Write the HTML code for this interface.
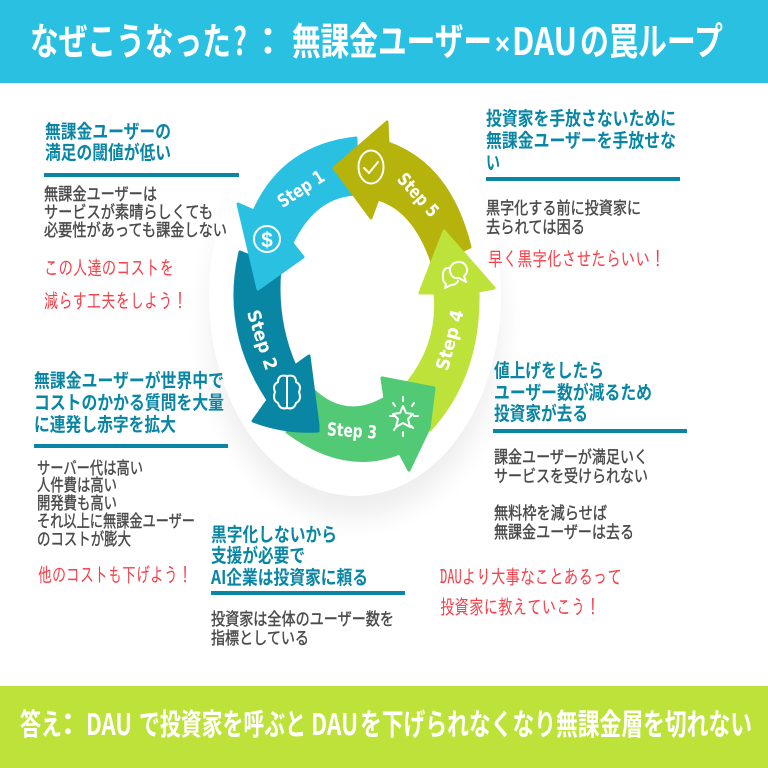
<!DOCTYPE html>
<html lang="ja"><head><meta charset="utf-8"><style>
html,body{margin:0;padding:0;background:#fff}
svg{display:block}
text{font-family:"Noto Sans CJK JP","Liberation Sans",sans-serif}
.h{font-size:19px;font-weight:700;fill:#0a86a5}
.b{font-size:17px;fill:#4a4a4a;stroke:#4a4a4a;stroke-width:.4}
.r{font-size:20px;fill:#f5404a;font-family:"IPAGothic","WenQuanYi Zen Hei",sans-serif}
.s{font-size:18px;font-weight:700;fill:#fff;text-anchor:middle;font-family:"DejaVu Sans",sans-serif}
.i{fill:none;stroke:#fff;stroke-width:2;stroke-linecap:round;stroke-linejoin:round}
.t{font-size:38px;font-weight:700;fill:#fff}
.f{font-size:30px;font-weight:700;fill:#fff}
</style></head><body>
<svg width="768" height="768" viewBox="0 0 768 768" xmlns="http://www.w3.org/2000/svg">
<defs><filter id="bl" x="-30%" y="-30%" width="160%" height="160%"><feGaussianBlur stdDeviation="12"/></filter></defs>
<rect width="768" height="768" fill="#fff"/>
<ellipse cx="355" cy="322" rx="146" ry="196" fill="#eeeeee" filter="url(#bl)"/>
<ellipse cx="355" cy="296" rx="146" ry="200" fill="#fff"/>
<rect width="768" height="83" fill="#2ac0e2"/>
<rect y="686" width="768" height="82" fill="#bde239"/>

<g stroke-linejoin="round" stroke-width="3">
<path d="M444 231L494 288L478 291Q480 375 430 430L405 386Q440 345 435 293L420 293Z" fill="#bde239" stroke="#bde239"/>
<path d="M382 378L385 398Q345 422 311 388L287 432Q345 475 400 453L409 470L429 428L434 388Z" fill="#52c975" stroke="#52c975"/>
<path d="M240 252L280 268Q275 320 295 366L309 356L318 425L318 431Q285 433 253 421L268 400Q222 330 240 252Z" fill="#0a86a5" stroke="#0a86a5"/>
<path d="M238 204L254 211Q283 146 356 138L357 194Q315 195 292 243L303 257L258 289Z" fill="#2ac0e2" stroke="#2ac0e2"/>
<path d="M334 168L387 122L388 143Q450 165 470 247L433 265Q415 210 378 199L371 218Z" fill="#b6b30c" stroke="#b6b30c"/>
<path d="M444 231L494 288L478 291L436 293L420 293Z" fill="#bde239" stroke="#bde239"/>
<path d="M382 378L385 398L400 453L409 470L429 428L434 388Z" fill="#52c975" stroke="#52c975"/>
</g>

<text class="s" transform="translate(301 189) rotate(-33)" dy="6" textLength="52" lengthAdjust="spacingAndGlyphs">Step 1</text>
<text class="s" transform="translate(418 195) rotate(48)" dy="6" textLength="52" lengthAdjust="spacingAndGlyphs">Step 5</text>
<text class="s" transform="translate(450 340) rotate(-75)" dy="6" textLength="62" lengthAdjust="spacingAndGlyphs">Step 4</text>
<text class="s" transform="translate(352 431) rotate(4)" dy="6" textLength="50" lengthAdjust="spacingAndGlyphs">Step 3</text>
<text class="s" transform="translate(262 340) rotate(72)" dy="6" textLength="62" lengthAdjust="spacingAndGlyphs">Step 2</text>

<circle class="i" cx="267" cy="239" r="13"/>
<text x="267" y="247" text-anchor="middle" style="font-size:21px;font-weight:700;fill:#fff;font-family:'Liberation Sans',sans-serif">$</text>
<ellipse class="i" cx="371" cy="167" rx="12.5" ry="16.5"/>
<path class="i" d="M364 168L369 173L378 162"/>
<path class="i" d="M452 276Q447 268 454 263Q463 260 466 266Q469 272 464 276L466 282L459 278Q455 279 452 276Z"/>
<path class="i" d="M450 268Q442 267 443 278Q443 282 446 284L445 288L451 285Q456 285 458 281"/>
<path class="i" d="M287 376V408M287 376Q278 374 278 382Q272 385 275 392Q272 400 278 403Q280 410 287 408M287 376Q296 374 296 382Q302 385 299 392Q302 400 296 403Q294 410 287 408"/>
<path class="i" stroke-width="1.6" d="M403 406L406 413L413 414L408 419L410 427L403 423L396 427L398 419L393 414L400 413Z"/>
<path class="i" stroke-width="1.4" d="M403 397V401M403 432V436M394 416H390M418 416H414M395 406L393 403M414 403L412 406M394 430L396 427M413 428L411 426"/>

<text class="t" x="30" y="55" textLength="201" lengthAdjust="spacingAndGlyphs">なぜこうなった</text>
<text class="t" x="233" y="55" textLength="14" lengthAdjust="spacingAndGlyphs">?</text>
<text class="t" x="250" y="55" textLength="36" lengthAdjust="spacingAndGlyphs">：</text>
<text class="t" x="292" y="55" textLength="200" lengthAdjust="spacingAndGlyphs">無課金ユーザー</text>
<text x="495" y="54" textLength="15" lengthAdjust="spacingAndGlyphs" style="font-size:30px;font-weight:700;fill:#fff;font-family:'Liberation Sans',sans-serif">×</text>
<text class="t" x="512" y="55" textLength="65" lengthAdjust="spacingAndGlyphs">DAU</text>
<text class="t" x="580" y="55" textLength="143" lengthAdjust="spacingAndGlyphs">の罠ループ</text>

<text class="f" x="20" y="735" textLength="42" lengthAdjust="spacingAndGlyphs">答え</text>
<text class="f" x="53" y="735" textLength="30" lengthAdjust="spacingAndGlyphs">：</text>
<text class="f" x="86" y="735" textLength="46" lengthAdjust="spacingAndGlyphs">DAU</text>
<text class="f" x="139" y="735" textLength="167" lengthAdjust="spacingAndGlyphs">で投資家を呼ぶと</text>
<text class="f" x="311" y="735" textLength="47" lengthAdjust="spacingAndGlyphs">DAU</text>
<text class="f" x="360" y="735" textLength="392" lengthAdjust="spacingAndGlyphs">を下げられなくなり無課金層を切れない</text>

<rect x="44" y="173" width="195" height="4" fill="#0a86a5"/>
<rect x="486" y="177" width="194" height="4" fill="#0a86a5"/>
<rect x="34" y="444" width="194" height="4" fill="#0a86a5"/>
<rect x="211" y="591" width="194" height="4" fill="#0a86a5"/>
<rect x="493" y="429" width="194" height="4" fill="#0a86a5"/>

<text class="h" x="45" y="138" textLength="126" lengthAdjust="spacingAndGlyphs">無課金ユーザーの</text>
<text class="h" x="45" y="159" textLength="126" lengthAdjust="spacingAndGlyphs">満足の閾値が低い</text>
<text class="b" x="44" y="200" textLength="113" lengthAdjust="spacingAndGlyphs">無課金ユーザーは</text>
<text class="b" x="44" y="218" textLength="169" lengthAdjust="spacingAndGlyphs">サービスが素晴らしくても</text>
<text class="b" x="44" y="236" textLength="183" lengthAdjust="spacingAndGlyphs">必要性があっても課金しない</text>
<text class="r" x="44" y="275" textLength="130" lengthAdjust="spacingAndGlyphs">この人達のコストを</text>
<text class="r" x="44" y="308" textLength="143" lengthAdjust="spacingAndGlyphs">減らす工夫をしよう！</text>

<text class="h" x="486" y="125" textLength="190" lengthAdjust="spacingAndGlyphs">投資家を手放さないために</text>
<text class="h" x="486" y="147" textLength="190" lengthAdjust="spacingAndGlyphs">無課金ユーザーを手放せな</text>
<text class="h" x="486" y="169" textLength="14" lengthAdjust="spacingAndGlyphs">い</text>
<text class="b" x="486" y="214" textLength="155" lengthAdjust="spacingAndGlyphs">黒字化する前に投資家に</text>
<text class="b" x="486" y="233" textLength="99" lengthAdjust="spacingAndGlyphs">去られては困る</text>
<text class="r" x="488" y="266" textLength="177" lengthAdjust="spacingAndGlyphs">早く黒字化させたらいい！</text>

<text class="h" x="34" y="387" textLength="190" lengthAdjust="spacingAndGlyphs">無課金ユーザーが世界中で</text>
<text class="h" x="34" y="409" textLength="190" lengthAdjust="spacingAndGlyphs">コストのかかる質問を大量</text>
<text class="h" x="34" y="431" textLength="142" lengthAdjust="spacingAndGlyphs">に連発し赤字を拡大</text>
<text class="b" x="37" y="474" textLength="106" lengthAdjust="spacingAndGlyphs">サーバー代は高い</text>
<text class="b" x="37" y="491" textLength="80" lengthAdjust="spacingAndGlyphs">人件費は高い</text>
<text class="b" x="37" y="509" textLength="80" lengthAdjust="spacingAndGlyphs">開発費も高い</text>
<text class="b" x="37" y="527" textLength="158" lengthAdjust="spacingAndGlyphs">それ以上に無課金ユーザー</text>
<text class="b" x="37" y="545" textLength="94" lengthAdjust="spacingAndGlyphs">のコストが膨大</text>
<text class="r" x="38" y="582" textLength="154" lengthAdjust="spacingAndGlyphs">他のコストも下げよう！</text>

<text class="h" x="211" y="541" textLength="126" lengthAdjust="spacingAndGlyphs">黒字化しないから</text>
<text class="h" x="211" y="562" textLength="94" lengthAdjust="spacingAndGlyphs">支援が必要で</text>
<text class="h" x="211" y="584" textLength="157" lengthAdjust="spacingAndGlyphs">AI企業は投資家に頼る</text>
<text class="b" x="211" y="625" textLength="183" lengthAdjust="spacingAndGlyphs">投資家は全体のユーザー数を</text>
<text class="b" x="211" y="644" textLength="98" lengthAdjust="spacingAndGlyphs">指標としている</text>

<text class="h" x="494" y="377" textLength="110" lengthAdjust="spacingAndGlyphs">値上げをしたら</text>
<text class="h" x="494" y="399" textLength="158" lengthAdjust="spacingAndGlyphs">ユーザー数が減るため</text>
<text class="h" x="494" y="420" textLength="94" lengthAdjust="spacingAndGlyphs">投資家が去る</text>
<text class="b" x="494" y="463" textLength="154" lengthAdjust="spacingAndGlyphs">課金ユーザーが満足いく</text>
<text class="b" x="494" y="482" textLength="154" lengthAdjust="spacingAndGlyphs">サービスを受けられない</text>
<text class="b" x="494" y="519" textLength="113" lengthAdjust="spacingAndGlyphs">無料枠を減らせば</text>
<text class="b" x="494" y="538" textLength="140" lengthAdjust="spacingAndGlyphs">無課金ユーザーは去る</text>
<text class="r" x="440" y="584" textLength="182" lengthAdjust="spacingAndGlyphs">DAUより大事なことあるって</text>
<text class="r" x="440" y="614" textLength="160" lengthAdjust="spacingAndGlyphs">投資家に教えていこう！</text>
</svg>
</body></html>
